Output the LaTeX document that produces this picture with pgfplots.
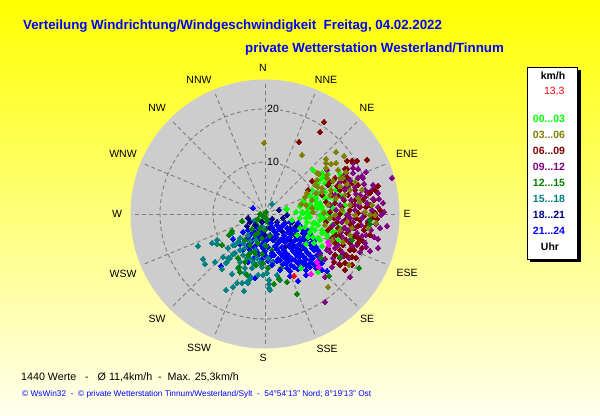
\documentclass[border=0pt]{standalone}
\usepackage{pgfplots}
\pgfplotsset{compat=1.18}
\usepackage{fontspec}
\setmainfont{Liberation Sans}
\definecolor{plate}{RGB}{205,205,205}
\definecolor{grid}{RGB}{125,125,125}
\definecolor{cLime}{RGB}{0,255,0}
\definecolor{cOlive}{RGB}{128,128,0}
\definecolor{cMaroon}{RGB}{128,0,0}
\definecolor{cPurple}{RGB}{128,0,128}
\definecolor{cGreen}{RGB}{0,128,0}
\definecolor{cTeal}{RGB}{0,128,128}
\definecolor{cNavy}{RGB}{0,0,128}
\definecolor{cBlue}{RGB}{0,0,255}
\definecolor{cMag}{RGB}{255,0,255}
\pgfplotsset{pts/.style={only marks,mark=square*,mark size=2.05pt,color=#1,mark options={rotate=45,solid,fill=#1,draw=#1,line width=0pt}}}
\begin{document}
\begin{tikzpicture}
\begin{axis}[scale only axis,width=600bp,height=415bp,xmin=0,xmax=600,ymin=0,ymax=415,y dir=reverse,hide axis,clip=false]
\fill[top color=yellow,bottom color={rgb,255:red,255;green,255;blue,238}] (axis cs:0,0) rectangle (axis cs:600,415);
\fill[plate] (axis cs:265,214) circle[radius=134.5bp];
\draw[grid,line width=0.9bp,dash pattern=on 4bp off 3bp] (axis cs:265,214) circle[radius=52bp];
\draw[grid,line width=0.9bp,dash pattern=on 4bp off 3bp] (axis cs:265,214) circle[radius=105bp];
\pgfplotsinvokeforeach{0,22.5,45,67.5,90,112.5,135,157.5,180,202.5,225,247.5,270,292.5,315,337.5}{
\draw[grid,line width=0.9bp,dash pattern=on 4bp off 3bp] (axis cs:265,214) -- ++(#1:133bp);}
\node[fill=plate,inner sep=1bp,font=\fontsize{10.5bp}{12bp}\selectfont] at (axis cs:273,109) {20};
\node[fill=plate,inner sep=1bp,font=\fontsize{10.5bp}{12bp}\selectfont] at (axis cs:273,162) {10};
\node[font=\fontsize{10.5bp}{12bp}\selectfont] at (axis cs:263,68) {N};
\node[font=\fontsize{10.5bp}{12bp}\selectfont] at (axis cs:326,80) {NNE};
\node[font=\fontsize{10.5bp}{12bp}\selectfont] at (axis cs:367,108) {NE};
\node[font=\fontsize{10.5bp}{12bp}\selectfont] at (axis cs:407,154) {ENE};
\node[font=\fontsize{10.5bp}{12bp}\selectfont] at (axis cs:407,214) {E};
\node[font=\fontsize{10.5bp}{12bp}\selectfont] at (axis cs:407,273) {ESE};
\node[font=\fontsize{10.5bp}{12bp}\selectfont] at (axis cs:367,319) {SE};
\node[font=\fontsize{10.5bp}{12bp}\selectfont] at (axis cs:327,349) {SSE};
\node[font=\fontsize{10.5bp}{12bp}\selectfont] at (axis cs:263,358) {S};
\node[font=\fontsize{10.5bp}{12bp}\selectfont] at (axis cs:199,348) {SSW};
\node[font=\fontsize{10.5bp}{12bp}\selectfont] at (axis cs:157,319) {SW};
\node[font=\fontsize{10.5bp}{12bp}\selectfont] at (axis cs:123,274) {WSW};
\node[font=\fontsize{10.5bp}{12bp}\selectfont] at (axis cs:117,214) {W};
\node[font=\fontsize{10.5bp}{12bp}\selectfont] at (axis cs:123,154) {WNW};
\node[font=\fontsize{10.5bp}{12bp}\selectfont] at (axis cs:157,108) {NW};
\node[font=\fontsize{10.5bp}{12bp}\selectfont] at (axis cs:199,80) {NNW};
% 21...24
\addplot[pts=cBlue] coordinates {(253,208)(298,281)(233,239)(221,266)(243,232)(255,278)(243,250)(240,244)(248,262)(290,276)(306,275)(322,270)(327,271)(287,268)(280,260)(248,230)(273,262)
(258,228)(266,229)(251,234)(257,235)(263,233)(270,235)(245,240)(252,241)(259,239)(266,241)(247,246)(254,247)(261,245)(268,247)(251,252)(258,253)(265,251)(254,258)(262,259)(270,257)(262,264)
(254,231)(261,232)(248,237)(255,238)(262,236)(269,238)(250,243)(257,244)(264,242)(249,249)(256,250)(263,248)(258,255)(266,256)(268,261)};
% 15...18
\addplot[pts=cTeal] coordinates {(272,204)(198,246)(212,243)(217,240)(217,244)(203,259)(205,264)(215,262)(222,269)(226,290)(233,287)(244,291)(232,274)(237,283)(242,283)(247,282)(250,279)(248,283)(270,290)(269,288)(269,280)(269,284)(280,280)(277,275)(227,262)(230,258)(235,253)(223,257)(233,245)(238,242)(240,250)(247,258)(253,262)(257,258)(258,275)(263,275)(267,273)(228,248)(235,245)(240,238)(232,233)(254,221)(226,263)(228,258)(233,254)(245,273)(250,276)(255,221)(262,226)(248,235)(256,240)(245,248)(250,258)(255,250)(243,255)(240,262)(245,268)(265,245)(260,262)(268,258)(272,262)(252,268)(243,243)(250,241)(262,267)(238,268)};
% 12...15
\addplot[pts=cGreen] coordinates {(263,216)(260,214)(266,218)(258,219)(262,221)(268,222)(256,224)(260,228)(265,230)(270,226)(252,229)(255,235)(262,238)(270,236)(258,243)(266,246)(275,240)(250,245)(254,252)(262,254)(272,250)(245,240)(248,255)(256,265)(282,255)(222,245)(229,235)(232,231)(242,221)(238,258)(239,267)(247,275)(274,284)(287,282)(240,272)(245,262)(250,253)(255,253)(263,263)(268,268)(281,268)(279,279)(297,294)(258,233)(266,212)};
% 18...21
\addplot[pts=cNavy] coordinates {(248,218)(250,222)(279,210)(287,215)(277,222)(290,228)(285,223)(255,225)(270,228)(262,222)(295,235)(280,240)(265,235)(275,232)(290,240)(305,240)(300,250)(282,231)(296,226)(247,226)(285,247)(274,238)(293,245)(303,233)(272,219)(283,218)(292,222)};
% 21...24, upper layer
\addplot[pts=cBlue] coordinates {(271,223)(277,225)(284,224)(290,222)(298,223)(272,227)(279,229)(287,228)(293,229)(301,227)(306,229)
(277,234)(284,235)(291,233)(298,236)(305,233)(311,235)(273,240)(280,241)(287,239)(294,241)(301,240)(308,238)(314,241)
(275,246)(282,247)(289,245)(296,247)(303,246)(310,244)(316,247)(272,253)(279,252)(286,253)(293,251)(300,253)(307,252)(314,250)(320,253)
(278,259)(285,258)(292,259)(299,257)(306,259)(313,258)(319,257)(272,265)(283,264)(291,265)(298,263)(306,265)(314,264)(322,263)
(280,270)(290,271)(298,269)(306,270)(316,268)(286,263)(300,261)(310,263)
(274,231)(282,226)(288,232)(296,231)(303,230)(309,231)(276,237)(283,238)(290,237)(297,239)(304,237)(312,238)
(278,243)(285,242)(292,243)(299,244)(306,243)(313,245)(277,249)(284,250)(291,248)(298,250)(305,249)(312,248)(318,250)
(274,255)(282,255)(289,256)(296,254)(303,256)(310,255)(317,255)(277,261)(288,261)(295,260)(303,262)(311,260)(318,261)(294,267)(302,266)(310,267)(318,265)};
% 00...03
\addplot[pts=cLime] coordinates {(313,170)(322,173)(328,174)(340,174)(321,179)(325,183)(318,193)(315,197)(286,209)(301,268)(318,272)(303,213)(300,218)(307,222)(313,223)(320,215)(323,210)(315,200)(327,220)(332,225)(322,230)(313,237)(318,238)(328,238)(327,232)(333,232)(310,232)(305,227)(340,228)(337,223)(315,207)(308,208)(320,203)(327,202)(330,197)(297,235)(308,214)(315,223)(322,233)(327,235)(320,240)(308,237)(327,213)(316,198)(308,206)(302,204)(287,209)(302,212)(307,212)(310,217)(322,207)(317,203)(325,192)(333,208)(336,216)(343,212)
(304,200)(310,196)(318,183)(324,177)(330,186)(336,190)(312,190)(306,218)(312,228)(318,225)(324,218)(330,215)(336,232)(330,243)(322,246)(314,243)(306,244)(300,228)(296,212)(292,220)(300,206)(312,212)(318,208)(325,198)(335,200)(340,195)(345,205)(338,240)(315,230)(320,220)(310,204)(334,180)};
% 06...09
\addplot[pts=cMaroon] coordinates {(324,122)(320,132)(299,142)(347,161)(352,161)(357,161)(367,160)(345,169)(347,169)(335,178)(312,181)(308,190)(330,182)(328,185)(343,177)(347,177)(378,186)(375,190)(370,193)(380,210)(375,213)(377,219)(368,223)(366,227)(358,243)(350,250)(352,257)(345,263)(340,265)(345,270)(358,238)
(340,190)(348,195)(355,200)(335,203)(342,207)(350,210)(358,213)(366,207)(330,212)(337,222)(345,220)(353,228)(360,220)(340,235)(347,233)(335,243)(343,245)(350,243)(328,248)(335,255)(338,228)(326,222)(332,195)(355,190)(363,200)
(338,196)(344,200)(352,205)(360,207)(370,205)(374,200)(372,218)(364,216)(356,218)(348,214)(340,214)(334,218)(330,228)(336,235)(344,228)(350,224)(358,226)(364,230)(370,235)(362,240)(354,236)(346,240)(340,250)(346,255)(354,250)(362,248)(332,238)(328,230)(356,258)(340,258)(334,262)(352,265)(345,182)(352,183)(358,185)(365,197)(345,188)(337,186)(322,195)(326,202)};
% 09...12
\addplot[pts=cPurple] coordinates {(392,178)(379,199)(353,163)(353,168)(353,173)(358,169)(363,178)(362,176)(373,185)(364,184)(355,187)(365,190)(360,195)(368,193)(327,170)(340,182)(387,226)(378,239)(378,248)(370,251)(365,243)(350,277)(339,264)(349,258)(333,258)(325,277)(318,267)(332,267)(325,302)(325,259)
(373,199)(367,203)(359,205)(351,200)(345,190)(335,195)(372,210)(378,207)(364,213)(355,210)(347,215)(340,205)(368,221)(361,225)(353,222)(345,228)(338,218)(357,233)(350,240)(343,238)(335,248)(342,252)(357,245)(330,252)(362,236)(371,230)(381,215)
(346,173)(358,178)(350,180)(366,172)(372,190)(378,193)(383,203)(370,215)(376,224)(366,235)(355,228)(349,230)(342,222)(336,210)(343,198)(348,186)(356,194)(364,198)(330,205)(333,225)(344,256)(338,245)(352,246)(360,252)(366,247)(374,237)(380,228)(384,212)(355,205)(362,218)(350,218)(341,232)(333,240)(327,250)(320,255)};
% 06...09, upper layer
\addplot[pts=cMaroon] coordinates {(358,243)(350,250)(352,257)(345,263)(340,265)(345,270)(358,238)(380,210)(375,213)(377,219)(368,223)(366,227)(378,186)(375,190)(370,193)(347,161)(352,161)(357,161)(367,160)(345,169)(335,243)(343,245)(335,255)(346,255)(354,250)(340,258)(356,258)(352,265)(350,224)(358,226)(364,230)(370,235)(340,214)(352,205)(363,200)};
% 03...06
\addplot[pts=cOlive] coordinates {(264,143)(302,155)(336,152)(344,156)(326,159)(326,163)(331,164)(336,163)(326,168)(317,173)(319,174)(327,175)(327,178)(333,181)(317,180)(315,185)(318,187)(307,193)(316,193)(301,204)(328,287)(349,265)(376,223)(370,215)(313,212)(305,197)(322,192)(331,190)(340,186)(347,184)(355,182)(362,190)(345,195)(336,198)(328,205)(350,205)(360,202)(342,210)(335,215)(355,215)(347,222)(365,212)(340,230)(332,240)(350,235)(322,188)(343,178)(312,200)(324,213)
(338,170)(346,172)(340,178)(350,190)(358,198)(372,205)(330,218)(325,225)(352,228)(368,228)(343,242)(312,208)(306,205)(330,195)(375,215)};
% 12...15, east cluster
\addplot[pts=cGreen] coordinates {(370,220)(370,224)(352,240)(340,257)(321,258)(329,276)(359,268)};
\addplot[pts=cMag] coordinates {(311,274)(319,267)(329,245)(328,242)(317,262)};
\addplot[pts=red] coordinates {(294,276)};
% text
\node[anchor=west,inner sep=0pt,text=blue,font=\bfseries\fontsize{13.3bp}{15bp}\selectfont] at (axis cs:23,26) {Verteilung Windrichtung/Windgeschwindigkeit\ \ Freitag, 04.02.2022};
\node[anchor=west,inner sep=0pt,text=blue,font=\bfseries\fontsize{13.3bp}{15bp}\selectfont] at (axis cs:245,49) {private Wetterstation Westerland/Tinnum};
\node[anchor=west,inner sep=0pt,font=\fontsize{10.7bp}{12bp}\selectfont] at (axis cs:21,377) {1440 Werte\ \ \ -\ \ \ Ø 11,4km/h\ \ -\ \ Max. 25,3km/h};
\node[anchor=west,inner sep=0pt,text=blue,font=\fontsize{8.3bp}{9bp}\selectfont] at (axis cs:22,394) {© WsWin32\ \ -\ \ © private Wetterstation Tinnum/Westerland/Sylt\ \ -\ \ 54°54'13'' Nord; 8°19'13'' Ost};
% legend box
\fill[black] (axis cs:530,70) rectangle (axis cs:581,262);
\filldraw[fill=white,draw=black,line width=0.9bp] (axis cs:527,67) rectangle (axis cs:577,259);
\node[font=\bfseries\fontsize{10.5bp}{12bp}\selectfont] at (axis cs:553,76) {km/h};
\node[anchor=east,text=red,font=\fontsize{10.5bp}{12bp}\selectfont] at (axis cs:568,92) {13,3};
\node[text=cLime,font=\bfseries\fontsize{10.5bp}{12bp}\selectfont] at (axis cs:549,119) {00...03};
\node[text=cOlive,font=\bfseries\fontsize{10.5bp}{12bp}\selectfont] at (axis cs:549,135) {03...06};
\node[text=cMaroon,font=\bfseries\fontsize{10.5bp}{12bp}\selectfont] at (axis cs:549,151) {06...09};
\node[text=cPurple,font=\bfseries\fontsize{10.5bp}{12bp}\selectfont] at (axis cs:549,167) {09...12};
\node[text=cGreen,font=\bfseries\fontsize{10.5bp}{12bp}\selectfont] at (axis cs:549,183) {12...15};
\node[text=cTeal,font=\bfseries\fontsize{10.5bp}{12bp}\selectfont] at (axis cs:549,199) {15...18};
\node[text=cNavy,font=\bfseries\fontsize{10.5bp}{12bp}\selectfont] at (axis cs:549,215) {18...21};
\node[text=cBlue,font=\bfseries\fontsize{10.5bp}{12bp}\selectfont] at (axis cs:549,231) {21...24};
\node[font=\bfseries\fontsize{10.5bp}{12bp}\selectfont] at (axis cs:550,247) {Uhr};
\end{axis}
\end{tikzpicture}
\end{document}
